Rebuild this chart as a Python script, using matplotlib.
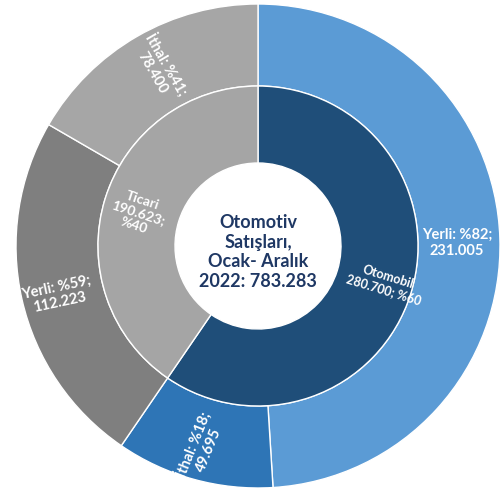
import matplotlib
matplotlib.use("Agg")
import matplotlib.pyplot as plt

plt.rcParams['font.family'] = ['Lato', 'DejaVu Sans']

# inner ring
inner_names = ['Otomobil', 'Ticari']
inner_values = [280700, 190623]
inner_labels = ['Otomobil\n280.700; %60', 'Ticari\n190.623;\n%40']
inner_colors = ['#1F4E79', '#A5A5A5']

# outer ring
outer_values = [231005, 49695, 112223, 78400]
outer_labels = ['Yerli: %82;\n231.005', 'İthal: %18;\n49.695',
                'Yerli: %59;\n112.223', 'İthal: %41;\n78.400']
outer_colors = ['#5B9BD5', '#2E75B6', '#7F7F7F', '#A6A6A6']

center_text = 'Otomotiv\nSatışları,\nOcak- Aralık\n2022: 783.283'

fig = plt.figure(figsize=(5, 4.9), dpi=100)
ax = fig.add_axes([0, 0, 1, 1])

R_out = 242
R_mid = 160
R_in = 83

ax.pie(outer_values, radius=R_out, colors=outer_colors, startangle=90,
       counterclock=False, wedgeprops=dict(width=R_out - R_mid, edgecolor='white', linewidth=1))
ax.pie(inner_values, radius=R_mid, colors=inner_colors, startangle=90,
       counterclock=False, wedgeprops=dict(width=R_mid - R_in, edgecolor='white', linewidth=1))

# label positions in pixel space (x, y from top-left), rotation
cx, cy = 258, 246
outer_pos = [(457, 243, 0), (200, 447, 68), (58, 295, 12), (160, 68, -60)]
for lab, (px, py, rot) in zip(outer_labels, outer_pos):
    ax.text(px - cx, cy - py, lab, color='white', fontsize=10.5, fontweight='bold',
            ha='center', va='center', rotation=rot, rotation_mode='anchor', linespacing=1.15)

inner_pos = [(386, 283, -17, 9), (138, 213, -18, 10)]
for lab, (px, py, rot, fs) in zip(inner_labels, inner_pos):
    ax.text(px - cx, cy - py, lab, color='white', fontsize=fs, fontweight='bold',
            ha='center', va='center', rotation=rot, rotation_mode='anchor', linespacing=1.15)

ax.text(0, cy - 252, center_text, color='#1F3864', fontsize=13, fontweight='bold',
        ha='center', va='center', linespacing=1.2)

ax.set_xlim(-cx, 500 - cx)
ax.set_ylim(cy - 490, cy)
ax.set_aspect('equal')
ax.axis('off')

fig.savefig('out.png', dpi=100, facecolor='white')
